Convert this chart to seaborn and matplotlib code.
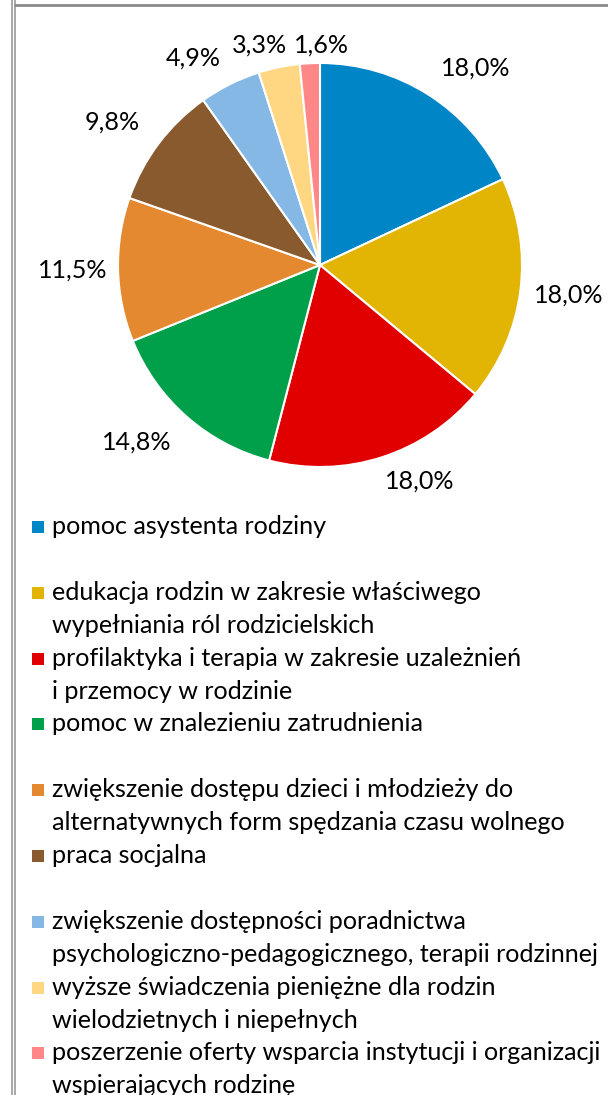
import numpy as np
import matplotlib
matplotlib.use("Agg")
import matplotlib.pyplot as plt
import seaborn as sns
from matplotlib.patches import Rectangle
from matplotlib.lines import Line2D

# dane
categories = [
    "pomoc asystenta rodziny",
    "edukacja rodzin w zakresie właściwego\nwypełniania ról rodzicielskich",
    "profilaktyka i terapia w zakresie uzależnień\ni przemocy w rodzinie",
    "pomoc w znalezieniu zatrudnienia",
    "zwiększenie dostępu dzieci i młodzieży do\nalternatywnych form spędzania czasu wolnego",
    "praca socjalna",
    "zwiększenie dostępności poradnictwa\npsychologiczno-pedagogicznego, terapii rodzinnej",
    "wyższe świadczenia pieniężne dla rodzin\nwielodzietnych i niepełnych",
    "poszerzenie oferty wsparcia instytucji i organizacji\nwspierających rodzinę",
]
shares = [18.0, 18.0, 18.0, 14.8, 11.5, 9.8, 4.9, 3.3, 1.6]
colors = ["#0085C7", "#E2B403", "#E00000", "#00A04B", "#E4892F",
          "#895A2D", "#85B8E4", "#FFD681", "#FF8787"]

sns.set_theme(style="white")
plt.rcParams["font.family"] = ["Lato", "DejaVu Sans"]

W, H = 608, 1095
fig = plt.figure(figsize=(W / 100, H / 100), dpi=100)
fig.patch.set_facecolor("white")

def fx(px):
    return px / W

def fy(py):
    return 1 - py / H

# rozmiar czcionki dopasowany do szerokości najdłuższej linii legendy
probe = fig.text(0, 0, "psychologiczno-pedagogicznego, terapii rodzinnej", fontsize=10)
fig.canvas.draw()
pw = probe.get_window_extent().width
probe.remove()
fs = 10 * 548 / pw

# wykres kołowy
cx, cy, r = 320, 265, 202
half = 1.25 * r
ax = fig.add_axes([fx(cx - half), fy(cy + half), 2 * half / W, 2 * half / H])
wedges, _ = ax.pie(shares, colors=colors, startangle=90, counterclock=False,
                   wedgeprops=dict(edgecolor="white", linewidth=1.5))
ax.set_xlim(-1.25, 1.25)
ax.set_ylim(-1.25, 1.25)
ax.set_aspect("equal")
ax.axis("off")

labels = []
for w, v in zip(wedges, shares):
    t = ax.text(0, 0, f"{v:.1f}%".replace(".", ","), fontsize=fs,
                ha="center", va="center", color="#000000")
    labels.append((w, t))
fig.canvas.draw()
boxes = []
for w, t in labels:
    ang = np.deg2rad((w.theta1 + w.theta2) / 2)
    ux, uy = np.cos(ang), np.sin(ang)
    gap = (10 + 14 * abs(np.sin(2 * ang))) / r
    bb = t.get_window_extent()
    hw, hh = bb.width / 2 / r, bb.height / 2 / r
    x = (1 + gap) * ux + hw * np.clip(3 * ux, -1, 1)
    y = (1 + gap) * uy + 0.6 * hh * np.clip(3 * uy, -1, 1)
    boxes.append([x, y, hw, hh])

# rozsunięcie nachodzących na siebie etykiet
pad = 7 / r
for i in range(1, len(boxes)):
    xa, ya, wa, ha = boxes[i - 1]
    xb, yb, wb, hb = boxes[i]
    if abs(ya - yb) < ha + hb:
        need = wa + wb + pad - abs(xb - xa)
        if need > 0:
            boxes[i][0] += need * np.sign(xb - xa if xb != xa else 1)

for (w, t), (x, y, _, _) in zip(labels, boxes):
    t.set_position((x, y))

# legenda
slot0, slot_step, line_step = 527, 65.8, 33
for i, (lab, col) in enumerate(zip(categories, colors)):
    yc = slot0 + i * slot_step
    fig.patches.append(Rectangle((fx(32), fy(yc + 6)), 12 / W, 12 / H,
                                 transform=fig.transFigure, facecolor=col,
                                 edgecolor="none"))
    for j, line in enumerate(lab.split("\n")):
        fig.text(fx(52), fy(yc + j * line_step + 7), line, fontsize=fs,
                 ha="left", va="baseline", color="#000000")

# ramka
for x in (11.5, 14.5):
    fig.add_artist(Line2D([fx(x), fx(x)], [0, 1], color="#9A9A9A", linewidth=1.2))
fig.add_artist(Line2D([fx(14.5), 1], [fy(4.5), fy(4.5)], color="#8A8A8A", linewidth=2))

fig.savefig("out.png", dpi=100, facecolor="white")
